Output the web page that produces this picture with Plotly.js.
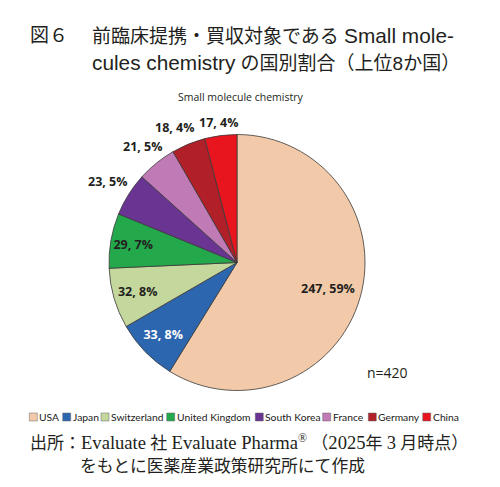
<!DOCTYPE html>
<html><head><meta charset="utf-8">
<script src="https://cdn.plot.ly/plotly-3.0.1.min.js"></script>
<style>html,body{margin:0;padding:0;background:#fff}#chart{width:500px;height:487px}</style>
</head><body><div id="chart"></div>
<script>
const countries = ['USA','Japan','Switzerland','United Kingdom','South Korea','France','Germany','China'];
const counts = [247,33,32,29,23,21,18,17];
const sliceColors = ['#F2CAA9','#2C66AF','#C4D79C','#23A84B','#6A3493','#C07BB6','#B11F29','#E8151E'];
const labelColors = ['#231F20','#FFFFFF','#231F20','#231F20','#231F20','#231F20','#231F20','#231F20'];
// 'pie' = label drawn by the pie trace itself, 'in'/'out' = placed along the slice bisector
const labelModes = ['in','pie','pie','pie','out','out','out','out'];
const headingNo = '図６';
const headingLine1 = ['前臨床提携・買収対象である ', 'Small mole-'];
const headingLine2 = ['cules chemistry', ' の国別割合（上位8か国）'];
const subtitle = 'Small molecule chemistry';
const sourceLine1 = ['出所：', 'Evaluate', ' 社 ', 'Evaluate Pharma', '<sup>®</sup> （', '2025', '年 ', '3', ' 月時点）'];
const sourceLine2 = 'をもとに医薬産業政策研究所にて作成';

const W = 500, H = 487;
const px = x => x / W;
const py = y => 1 - y / H;
const totalN = counts.reduce((a, b) => a + b, 0);
const headFont = {family: '"Liberation Sans", "Noto Sans CJK JP", sans-serif', size: 19, color: '#231F20'};
const srcFont1 = {family: '"Liberation Serif", "Noto Sans CJK JP", serif', size: 17, color: '#231F20'};
const srcFont2 = {family: '"Liberation Serif", "Noto Sans CJK JP", serif', size: 16.8, color: '#231F20'};
const labelFont = {family: 'Open Sans', size: 12.5, weight: 'bold'};
const legFont = {family: 'Lato', size: 10.3, color: '#1a1a1a'};
const big = (s, sz) => '<span style="font-size:' + sz + 'px">' + s + '</span>';

// layout: pie centre / radius and legend row (pixels)
const cx = 237, cy = 262.5, r = 128;
const legendItemX = [29.3, 62.7, 101, 166.7, 255.3, 322.7, 368.3, 422.7];
const legY = 417, sq = 8;

const annotations = [
  {text: headingNo, x: px(28), y: py(36), xanchor: 'left', yanchor: 'middle', font: headFont},
  {text: headingLine1[0] + big(headingLine1[1], 20.8), x: px(90), y: py(36), xanchor: 'left', yanchor: 'middle', font: headFont},
  {text: big(headingLine2[0], 20.8) + headingLine2[1], x: px(90), y: py(63), xanchor: 'left', yanchor: 'middle', font: headFont},
  {text: subtitle, x: px(240), y: py(97), xanchor: 'center', yanchor: 'middle', font: {family: 'Open Sans', size: 10.5, color: '#231F20'}},
  {text: 'n=' + totalN, x: px(365), y: py(372), xanchor: 'left', yanchor: 'middle', font: {family: 'Open Sans', size: 14, color: '#231F20'}},
  {text: sourceLine1.map((s, i) => (i % 2 === 1) ? big(s, 18.6) : s).join(''), x: px(28), y: py(442), xanchor: 'left', yanchor: 'middle', font: srcFont1},
  {text: sourceLine2, x: px(78), y: py(466), xanchor: 'left', yanchor: 'middle', font: srcFont2}
];

// slice labels placed along bisectors (angles derived from the data)
const lw = 40, lh = 13;
let cum = 0;
const outside = [];
counts.forEach((v, i) => {
  const mid = (cum + v / 2) / totalN * 2 * Math.PI;
  cum += v;
  const mode = labelModes[i];
  if (mode === 'pie') return;
  const s = Math.sin(mid), c = Math.cos(mid);
  const txt = v + ', ' + Math.round(v / totalN * 100) + '%';
  const R = mode === 'in' ? 0.74 * r : r + 4 + Math.abs(s) * lw / 2 + Math.abs(c) * lh / 2;
  const a = {text: txt, x: cx + R * s, y: cy - R * c, xanchor: 'center', yanchor: 'middle',
    font: Object.assign({}, labelFont, {color: labelColors[i]})};
  annotations.push(a);
  if (mode === 'out') outside.push(a);
});
// resolve overlaps of outside labels, walking from the last slice backwards
for (let k = outside.length - 2; k >= 0; k--) {
  const a = outside[k], b = outside[k + 1];
  if (Math.abs(a.y - b.y) < lh && a.x + lw / 2 + 4 > b.x - lw / 2) a.x = b.x - lw - 4;
}
annotations.forEach(a => { if (a.x > 1) a.x = px(a.x); if (a.y > 1) a.y = py(a.y); });

// legend
const shapes = [];
countries.forEach((c, i) => {
  const lx = legendItemX[i];
  shapes.push({type: 'rect', xref: 'paper', yref: 'paper', x0: px(lx), x1: px(lx + sq), y0: py(legY + sq / 2), y1: py(legY - sq / 2),
    fillcolor: sliceColors[i], line: {color: '#666', width: 0.5}});
  annotations.push({text: c, x: px(lx + sq), y: py(legY), xanchor: 'left', yanchor: 'middle', font: legFont});
});
annotations.forEach(a => { a.showarrow = false; a.xref = 'paper'; a.yref = 'paper'; });

const trace = {
  type: 'pie',
  labels: countries,
  values: counts,
  sort: false,
  direction: 'clockwise',
  rotation: 0,
  marker: {colors: sliceColors, line: {color: '#3a3a3a', width: 0.8}},
  texttemplate: '%{value}, %{percent:.0%}',
  textposition: labelModes.map(m => m === 'pie' ? 'inside' : 'none'),
  insidetextorientation: 'horizontal',
  textfont: Object.assign({}, labelFont, {color: labelColors}),
  showlegend: false,
  hoverinfo: 'none',
  automargin: false,
  domain: {x: [px(cx - r), px(cx + r)], y: [py(cy + r), py(cy - r)]}
};
const layout = {
  width: W, height: H,
  margin: {l: 0, r: 0, t: 0, b: 0},
  paper_bgcolor: '#fff',
  showlegend: false,
  annotations: annotations,
  shapes: shapes
};
Plotly.newPlot('chart', [trace], layout, {staticPlot: true});
</script></body></html>
